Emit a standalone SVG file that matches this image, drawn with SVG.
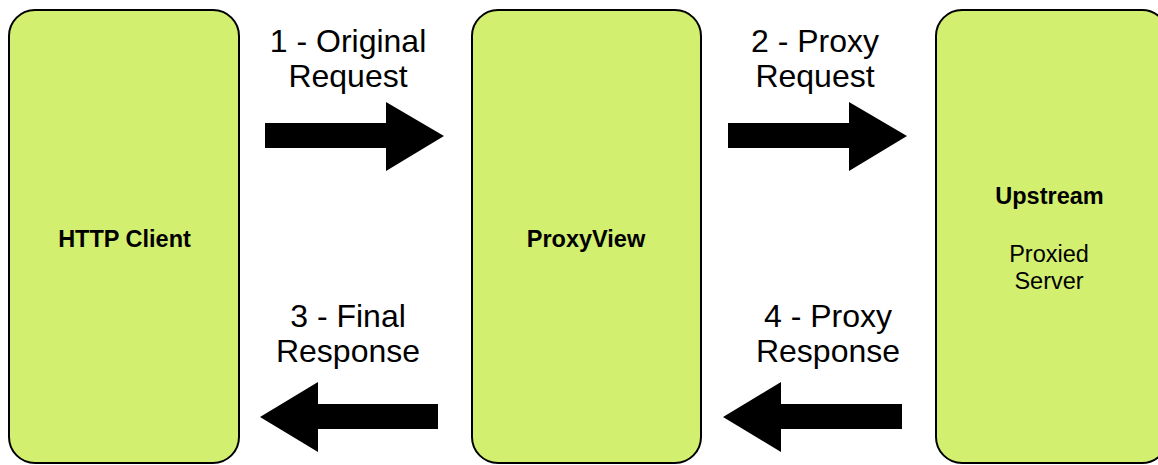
<svg xmlns="http://www.w3.org/2000/svg" width="1158" height="465" viewBox="0 0 1158 465">
  <style>
    .box { fill: #d3ef6f; stroke: #000; stroke-width: 2; }
    .title { font-family: "Liberation Sans", Arial, sans-serif; font-weight: bold; font-size: 23.5px; fill: #000; text-anchor: middle; }
    .sub { font-family: "Liberation Sans", Arial, sans-serif; font-size: 23.5px; fill: #000; text-anchor: middle; }
    .step { font-family: "Liberation Sans", Arial, sans-serif; font-size: 32px; fill: #000; text-anchor: middle; }
    .arrow { fill: #000; }
  </style>
  <rect width="1158" height="465" fill="#fff"/>

  <g id="http-client">
    <rect class="box" x="9" y="10" width="230" height="453" rx="26" ry="26"/>
    <text class="title" x="124.5" y="247">HTTP Client</text>
  </g>

  <g id="proxyview">
    <rect class="box" x="472" y="10" width="229" height="453" rx="26" ry="26"/>
    <text class="title" x="586" y="247">ProxyView</text>
  </g>

  <g id="upstream">
    <rect class="box" x="936" y="10" width="232" height="453" rx="26" ry="26"/>
    <text class="title" x="1049.5" y="204">Upstream</text>
    <text class="sub" x="1049" y="262">Proxied</text>
    <text class="sub" x="1049" y="289">Server</text>
  </g>

  <g id="connectors">
    <!-- 1: client to proxy -->
    <polygon class="arrow" points="265,123 386,123 386,102 444,136 386,171 386,148 265,148"/>
    <text class="step" x="348" y="52">1 - Original</text>
    <text class="step" x="348" y="87">Request</text>

    <!-- 2: proxy to upstream -->
    <polygon class="arrow" points="728,123 849,123 849,102 907,136 849,171 849,148 728,148"/>
    <text class="step" x="815" y="52">2 - Proxy</text>
    <text class="step" x="815" y="87">Request</text>

    <!-- 3: proxy back to client -->
    <polygon class="arrow" points="438,404 318,404 318,382 260,417 318,452 318,429 438,429"/>
    <text class="step" x="348" y="327">3 - Final</text>
    <text class="step" x="348" y="362">Response</text>

    <!-- 4: upstream back to proxy -->
    <polygon class="arrow" points="902,404 781,404 781,382 723,417 781,452 781,429 902,429"/>
    <text class="step" x="828" y="327">4 - Proxy</text>
    <text class="step" x="828" y="362">Response</text>
  </g>
</svg>
